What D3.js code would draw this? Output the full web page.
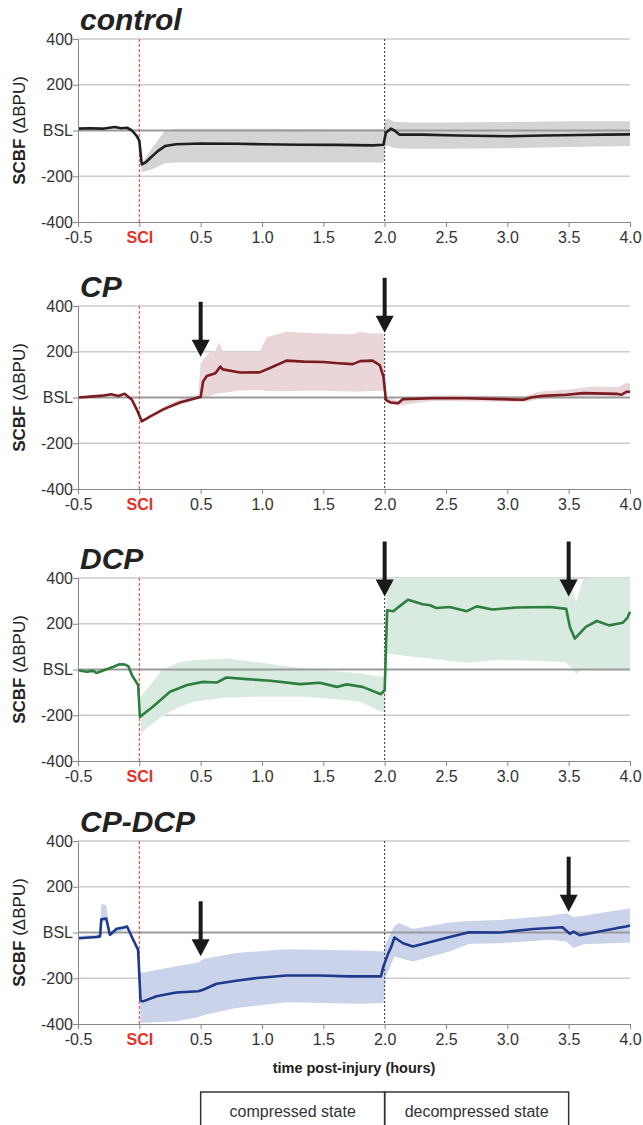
<!DOCTYPE html>
<html>
<head>
<meta charset="utf-8">
<script src="https://cdn.jsdelivr.net/npm/d3@7"></script>
<style>
  body { margin: 0; background: #fff; }
  svg text { font-family: "Liberation Sans", Arial, sans-serif; }
</style>
</head>
<body>
<div id="chart"></div>
<script>
// axis ticks
var xTicks = [-0.5, 0, 0.5, 1.0, 1.5, 2.0, 2.5, 3.0, 3.5, 4.0];
var xTickLabels = ["-0.5", "SCI", "0.5", "1.0", "1.5", "2.0", "2.5", "3.0", "3.5", "4.0"];
var yTicks = [-400, -200, 0, 200, 400];
var yTickLabels = ["-400", "-200", "BSL", "200", "400"];

// state boxes under the last panel
var states = [
    { label: "compressed state", from: 0.5, to: 2.0 },
    { label: "decompressed state", from: 2.0, to: 3.5 }
];

// mean traces: [time (h), SCBF]
var controlMean = [[-0.5,8],[-0.4,10],[-0.3,8],[-0.2,15],[-0.15,10],[-0.1,12],[-0.06,0],[-0.02,-25],[0.0,-45],
    [0.02,-148],[0.05,-140],[0.1,-115],[0.15,-90],[0.21,-68],[0.3,-60],[0.5,-57],[0.8,-58],[1.0,-60],
    [1.3,-62],[1.6,-63],[1.9,-65],[1.99,-62],[2.01,-10],[2.05,8],[2.08,0],[2.12,-18],[2.3,-18],[2.6,-22],
    [3.0,-25],[3.3,-22],[3.6,-20],[3.8,-18],[4.0,-17]];

var cpMean = [[-0.5,0],[-0.4,4],[-0.3,8],[-0.23,14],[-0.17,7],[-0.12,16],[-0.06,-10],[-0.02,-54],[0.02,-104],
    [0.09,-83],[0.2,-51],[0.33,-22],[0.48,0],[0.5,2],[0.52,70],[0.55,94],[0.62,106],[0.66,135],[0.68,123],
    [0.82,109],[0.98,110],[1.07,130],[1.2,161],[1.34,157],[1.5,155],[1.62,150],[1.74,146],[1.8,159],
    [1.9,161],[1.96,142],[1.99,91],[2.01,-10],[2.05,-22],[2.11,-25],[2.15,-7],[2.39,-3],[2.67,-3],
    [2.94,-7],[3.13,-10],[3.2,1],[3.29,7],[3.48,12],[3.62,19],[3.89,16],[3.93,12],[3.97,25],[4.0,25]];

var dcpMean = [[-0.5,-3],[-0.43,-10],[-0.375,-6],[-0.35,-15],[-0.29,-3],[-0.21,12],[-0.16,23],[-0.12,22],
    [-0.09,15],[-0.06,-25],[-0.01,-68],[0.005,-207],[0.11,-163],[0.25,-97],[0.39,-68],[0.52,-54],[0.63,-57],
    [0.71,-35],[0.875,-42],[1.07,-49],[1.31,-64],[1.47,-58],[1.61,-76],[1.69,-65],[1.82,-76],[1.97,-108],
    [2.0,-90],[2.02,259],[2.07,255],[2.12,276],[2.19,305],[2.31,285],[2.37,281],[2.42,269],[2.53,273],
    [2.67,255],[2.75,276],[2.88,262],[3.07,271],[3.35,273],[3.48,265],[3.51,186],[3.55,135],[3.64,186],
    [3.73,212],[3.83,193],[3.94,204],[3.98,227],[4.0,252]];

var cpdcpMean = [[-0.5,-25],[-0.35,-20],[-0.32,-17],[-0.31,58],[-0.27,61],[-0.24,-10],[-0.185,16],[-0.13,22],
    [-0.1,26],[-0.05,-32],[-0.01,-76],[0.01,-297],[0.03,-301],[0.14,-279],[0.3,-262],[0.48,-257],[0.52,-250],
    [0.63,-224],[0.79,-211],[0.96,-199],[1.2,-188],[1.47,-188],[1.71,-192],[1.97,-192],[1.99,-148],[2.03,-90],
    [2.05,-68],[2.08,-22],[2.15,-47],[2.23,-61],[2.39,-39],[2.53,-20],[2.69,1],[2.94,0],[3.21,15],[3.45,23],
    [3.51,-6],[3.54,4],[3.59,-12],[3.75,4],[3.89,19],[3.97,26],[4.0,31]];

// spread bands: [time (h), low, high]
var controlBand = [[0.0,-60,-60],[0.02,-183,-145],[0.1,-170,-80],[0.21,-143,0],[0.3,-140,8],[0.6,-140,8],
    [1.0,-140,8],[1.5,-140,6],[1.99,-140,5],[2.005,-70,45],[2.02,-65,52],[2.08,-78,38],[2.2,-80,35],
    [2.5,-80,35],[3.0,-78,37],[3.5,-72,40],[4.0,-68,40]];

var cpBand = [[0.15,-68,-58],[0.25,-45,-25],[0.35,-28,-5],[0.48,-8,12],[0.5,-5,150],[0.52,-3,165],[0.57,5,195],
    [0.62,15,205],[0.65,18,240],[0.68,20,200],[0.8,30,200],[0.98,33,200],[1.04,28,265],[1.2,27,287],
    [1.34,30,283],[1.5,30,280],[1.74,26,277],[1.8,26,287],[1.9,28,280],[1.99,30,280],[2.01,-22,0],
    [2.1,-35,-12],[2.4,-15,10],[2.9,-18,8],[3.15,-20,5],[3.25,-8,25],[3.5,0,35],[3.7,5,48],[3.9,3,45],
    [3.97,10,65],[4.0,12,60]];

var dcpBand = [[0.01,-279,-119],[0.1,-240,-60],[0.18,-207,-3],[0.33,-163,33],[0.45,-140,41],[0.71,-122,48],
    [0.95,-119,33],[1.34,-119,4],[1.6,-130,-8],[1.8,-140,-17],[1.97,-185,-32],[2.0,-185,-32],[2.02,70,400],
    [2.25,55,400],[2.67,29,400],[2.9,41,400],[3.2,38,400],[3.47,33,400],[3.5,20,400],[3.56,-17,295],
    [3.62,0,395],[3.7,2,400],[4.0,2,400]];

var cpdcpBand = [[-0.5,-32,-15],[-0.32,-25,-8],[-0.31,45,125],[-0.27,50,120],[-0.24,-18,0],[-0.1,18,34],
    [-0.05,-40,-25],[-0.01,-85,-68],[0.01,-396,-177],[0.3,-388,-148],[0.48,-370,-131],[0.52,-362,-116],
    [0.79,-330,-90],[1.2,-305,-73],[1.8,-311,-79],[1.99,-308,-83],[2.01,-192,-47],[2.08,-105,29],
    [2.12,-112,41],[2.23,-127,15],[2.53,-83,44],[2.69,-49,50],[2.94,-47,55],[3.35,-32,73],[3.48,-39,84],
    [3.54,-68,67],[3.62,-51,73],[4.0,-44,106]];

// arrows: time and SCBF value at the arrow tip
var cpArrows = [{ t: 0.5, tip: 178 }, { t: 2.0, tip: 283 }];
var dcpArrows = [{ t: 2.0, tip: 319 }, { t: 3.5, tip: 319 }];
var cpdcpArrows = [{ t: 0.5, tip: -104 }, { t: 3.5, tip: 91 }];

var panels = [
    { name: "control", top: 39, mean: controlMean, band: controlBand, arrows: [], stroke: "#1e1e1e", fill: "#d4d4d4" },
    { name: "CP", top: 306, mean: cpMean, band: cpBand, arrows: cpArrows, stroke: "#7b1c1f", fill: "#ead6d9" },
    { name: "DCP", top: 578, mean: dcpMean, band: dcpBand, arrows: dcpArrows, stroke: "#2c7f3c", fill: "#d9ebe0" },
    { name: "CP-DCP", top: 841, mean: cpdcpMean, band: cpdcpBand, arrows: cpdcpArrows, stroke: "#1d3a8c", fill: "#cbd3ea" }
];

var svgWidth = 643, svgHeight = 1125;
var margin = { left: 78, right: 13 };
var plotHeight = 183;

var svg = d3.select("#chart")
    .append("svg")
    .attr("width", svgWidth)
    .attr("height", svgHeight);

var x = d3.scaleLinear()
    .domain([-0.5, 4.0])
    .range([margin.left, svgWidth - margin.right]);

panels.forEach(function(p, i) {
    var y = d3.scaleLinear()
        .domain([-400, 400])
        .range([p.top + plotHeight, p.top]);

    var g = svg.append("g");

    // grid lines
    g.selectAll(".grid")
        .data(yTicks.filter(function(d) { return d !== 0 && d !== -400; }))
        .enter()
        .append("line")
        .attr("x1", x(-0.5)).attr("x2", x(4.0))
        .attr("y1", function(d) { return y(d); })
        .attr("y2", function(d) { return y(d); })
        .attr("stroke", "#cbcbcb")
        .attr("stroke-width", 1.5);

    // band
    var area = d3.area()
        .x(function(d) { return x(d[0]); })
        .y0(function(d) { return y(d[1]); })
        .y1(function(d) { return y(d[2]); });

    g.append("path")
        .datum(p.band)
        .attr("d", area)
        .attr("fill", p.fill);

    // baseline
    g.append("line")
        .attr("x1", x(-0.5)).attr("x2", x(4.0))
        .attr("y1", y(0)).attr("y2", y(0))
        .attr("stroke", "#9a9a9a")
        .attr("stroke-width", 2);

    // SCI and decompression markers
    g.append("line")
        .attr("x1", x(0)).attr("x2", x(0))
        .attr("y1", y(400)).attr("y2", y(-400))
        .attr("stroke", "#f2382e")
        .attr("stroke-width", 1)
        .attr("stroke-dasharray", "3,2");

    g.append("line")
        .attr("x1", x(2)).attr("x2", x(2))
        .attr("y1", y(400)).attr("y2", y(-400))
        .attr("stroke", "#333")
        .attr("stroke-width", 1)
        .attr("stroke-dasharray", "2,2");

    // mean trace
    var line = d3.line()
        .x(function(d) { return x(d[0]); })
        .y(function(d) { return y(d[1]); });

    g.append("path")
        .datum(p.mean)
        .attr("d", line)
        .attr("fill", "none")
        .attr("stroke", p.stroke)
        .attr("stroke-width", 2.6)
        .attr("stroke-linejoin", "round");

    // axes
    var yAxis = g.append("g")
        .attr("transform", "translate(" + margin.left + ",0)")
        .call(d3.axisLeft(y).tickValues(yTicks).tickSize(5)
            .tickFormat(function(d, j) { return yTickLabels[j]; }));
    yAxis.select(".domain").attr("stroke", "#888");
    yAxis.selectAll(".tick line").attr("stroke", "#888");
    yAxis.selectAll(".tick text")
        .attr("x", -5)
        .attr("font-size", 16)
        .attr("fill", "#333")
        .attr("font-family", "Liberation Sans, Arial, sans-serif");

    var xAxis = g.append("g")
        .attr("transform", "translate(0," + (p.top + plotHeight) + ")")
        .call(d3.axisBottom(x).tickValues(xTicks).tickSize(5)
            .tickFormat(function(d, j) { return xTickLabels[j]; }));
    xAxis.select(".domain").attr("stroke", "#888");
    xAxis.selectAll(".tick line").attr("stroke", "#888");
    xAxis.selectAll(".tick text")
        .attr("y", 10)
        .attr("font-size", 16)
        .attr("fill", function(d) { return d === 0 ? "#e8302a" : "#333"; })
        .attr("font-weight", function(d) { return d === 0 ? "bold" : "normal"; })
        .attr("font-family", "Liberation Sans, Arial, sans-serif");

    // panel title
    g.append("text")
        .attr("x", 80)
        .attr("y", p.top - 9)
        .attr("font-size", 30)
        .attr("font-weight", "bold")
        .attr("font-style", "italic")
        .attr("fill", "#222")
        .text(p.name);

    // y label
    var yl = g.append("text")
        .attr("transform", "translate(25," + (p.top + plotHeight / 2) + ") rotate(-90)")
        .attr("text-anchor", "middle")
        .attr("font-size", 17)
        .attr("fill", "#222");
    yl.append("tspan").attr("font-weight", "bold").text("SCBF ");
    yl.append("tspan").text("(\u0394BPU)");

    // arrows
    var arrowLen = 55, headLen = 17, headW = 9;
    p.arrows.forEach(function(a) {
        var ax = x(a.t), tipY = y(a.tip);
        g.append("line")
            .attr("x1", ax).attr("x2", ax)
            .attr("y1", tipY - arrowLen).attr("y2", tipY - headLen + 2)
            .attr("stroke", "#1a1a1a")
            .attr("stroke-width", 4);
        g.append("path")
            .attr("d", "M" + (ax - headW) + "," + (tipY - headLen) + "L" + (ax + headW) + "," + (tipY - headLen) +
                "L" + ax + "," + tipY + "Z")
            .attr("fill", "#1a1a1a");
    });

    // bottom annotations on the last panel
    if (i === panels.length - 1) {
        var base = p.top + plotHeight;
        g.append("text")
            .attr("x", x(1.75))
            .attr("y", base + 49)
            .attr("text-anchor", "middle")
            .attr("font-size", 14.5)
            .attr("font-weight", "bold")
            .attr("fill", "#222")
            .text("time post-injury (hours)");

        var boxTop = base + 68;
        states.forEach(function(s) {
            g.append("path")
                .attr("d", "M" + x(s.from) + "," + (svgHeight + 5) + "V" + boxTop + "H" + x(s.to) + "V" + (svgHeight + 5))
                .attr("fill", "none")
                .attr("stroke", "#333")
                .attr("stroke-width", 1.5);
            g.append("text")
                .attr("x", (x(s.from) + x(s.to)) / 2)
                .attr("y", boxTop + 25)
                .attr("text-anchor", "middle")
                .attr("font-size", 16)
                .attr("fill", "#333")
                .text(s.label);
        });
    }
});
</script>
</body>
</html>
